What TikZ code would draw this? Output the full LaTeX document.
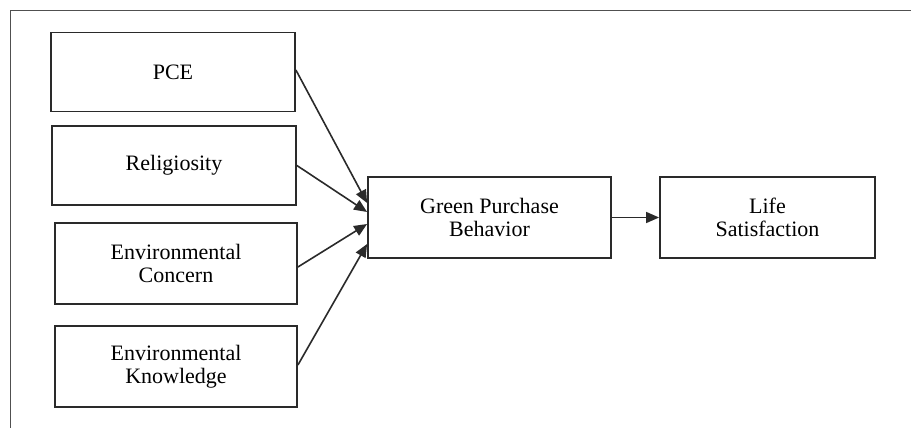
\documentclass[tikz,border=0pt]{standalone}
\usepackage{fontspec}
\setmainfont{Liberation Serif}
\usetikzlibrary{arrows.meta}
\definecolor{framegray}{HTML}{505050}
\definecolor{boxgray}{HTML}{2A2A2A}
\begin{document}
\begin{tikzpicture}[x=1pt,y=-1pt,
  varbox/.style={draw=boxgray, line width=1.8pt, minimum width=244pt, minimum height=79pt,
    align=center, inner sep=0pt, font=\fontsize{22}{23.5}\selectfont},
  link/.style={draw=boxgray, line width=1.6pt, -{Triangle[length=13pt,width=11pt]}}]
  \useasboundingbox (0,0) rectangle (911,428);
  % outer frame: top and left edges only
  \draw[framegray, line width=1.8pt] (10.5,428) -- (10.5,10.5) -- (911,10.5);

  % predictors
  \node[varbox] (pce) at (173,72) {PCE};
  \node[varbox] (rel) at (174,165.5) {Religiosity};
  \node[varbox, minimum width=242pt, minimum height=81pt] (ec) at (176,263.5) {Environmental\\Concern};
  \node[varbox, minimum width=242pt, minimum height=81pt] (ek) at (176,366.5) {Environmental\\Knowledge};

  % mediator and outcome
  \node[varbox, minimum width=243pt, minimum height=81pt] (gpb) at (489.5,217.5) {Green Purchase\\Behavior};
  \node[varbox, minimum width=215pt, minimum height=81pt] (ls) at (767.5,217.5) {Life\\Satisfaction};

  % paths
  \draw[link] ([yshift=2pt]pce.east) -- ([yshift=14.5pt]gpb.west);
  \draw[link] (rel.east) -- ([yshift=5.5pt]gpb.west);
  \draw[link] ([yshift=-3.5pt]ec.east) -- ([yshift=-6.5pt]gpb.west);
  \draw[link] ([yshift=1.5pt]ek.east) -- ([yshift=-26.5pt]gpb.west);
  \draw[link] (gpb.east) -- (ls.west);
\end{tikzpicture}
\end{document}
